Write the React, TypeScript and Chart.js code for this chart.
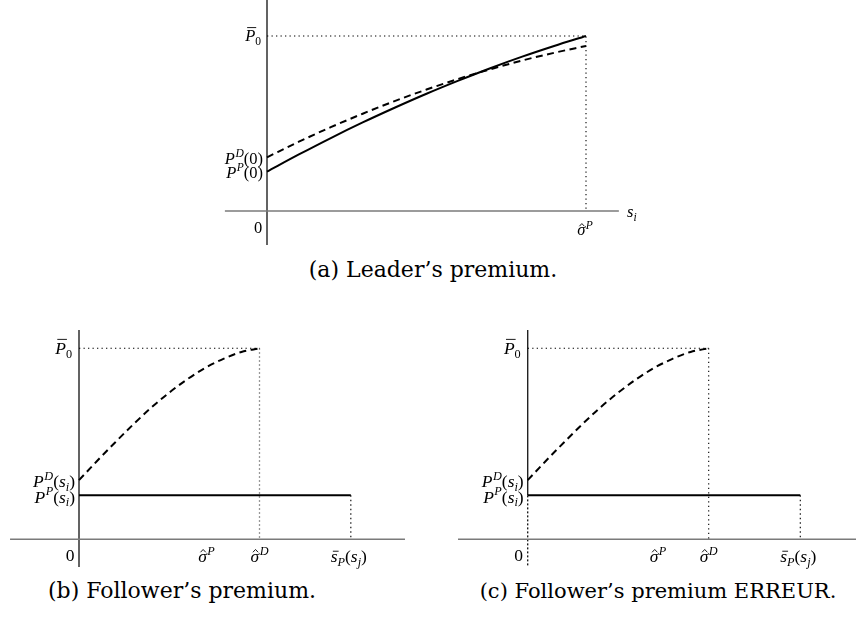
import React, { useEffect, useRef } from "react";
import { Chart, registerables } from "chart.js";

Chart.register(...registerables);

// ---------- Panel (a): Leader's premium ----------
const leaderS = [0, 0.1, 0.2, 0.3, 0.4, 0.5, 0.6, 0.7, 0.8, 0.9, 1];
const leaderPremiumP = [0.225, 0.323, 0.417, 0.506, 0.59, 0.67, 0.745, 0.816, 0.882, 0.943, 1.0];
const leaderPremiumD = [0.307, 0.396, 0.479, 0.556, 0.628, 0.694, 0.755, 0.81, 0.86, 0.904, 0.943];
const leaderSigmaP = 1;
const pBar0 = 1;

// ---------- Panels (b), (c): Follower's premium ----------
const followerS = [0, 0.1, 0.2, 0.3, 0.4, 0.5, 0.6, 0.7, 0.8, 0.9, 1];
const followerPremiumD = [0.31, 0.41, 0.507, 0.601, 0.689, 0.768, 0.838, 0.898, 0.945, 0.981, 1.0];
const followerPremiumP = 0.23;
const followerSigmaP = [0.706, 0.72]; // (b), (c)
const followerSigmaD = 1;
const followerSBarP = 1.506;

const captions = [
  "(a) Leader\u2019s premium.",
  "(b) Follower\u2019s premium.",
  "(c) Follower\u2019s premium ERREUR.",
];

// ---------- math text helper ----------
type Seg = { t: string; it?: boolean; sup?: boolean; sub?: boolean; bar?: boolean; hat?: boolean };
const it = (t: string, e: Partial<Seg> = {}): Seg => ({ t, it: true, ...e });
const rm = (t: string, e: Partial<Seg> = {}): Seg => ({ t, ...e });

const MATH_FONT = '"Liberation Serif", "Times New Roman", serif';

function drawMath(
  ctx: CanvasRenderingContext2D,
  segs: Seg[],
  x: number,
  y: number,
  align: "left" | "center" | "right",
  size: number
) {
  const small = size * 0.7;
  const font = (s: Seg) => `${s.it ? "italic " : ""}${s.sup || s.sub ? small : size}px ${MATH_FONT}`;
  const widths = segs.map((s) => {
    ctx.font = font(s);
    return ctx.measureText(s.t).width + (s.sup ? 0.5 : 0);
  });
  const total = widths.reduce((a, b) => a + b, 0);
  let cx = align === "right" ? x - total : align === "center" ? x - total / 2 : x;
  const base = y + size * 0.33;
  ctx.save();
  ctx.fillStyle = "#000";
  ctx.strokeStyle = "#000";
  ctx.textBaseline = "alphabetic";
  ctx.textAlign = "left";
  segs.forEach((s, i) => {
    ctx.font = font(s);
    const dy = s.sup ? -size * 0.42 : s.sub ? size * 0.22 : 0;
    ctx.fillText(s.t, cx + (s.sup ? 0.5 : 0), base + dy);
    if (s.bar) {
      const top = s.t === "s" ? base - size * 0.62 : base - size * 0.84;
      ctx.lineWidth = 0.9;
      ctx.beginPath();
      ctx.moveTo(cx + size * 0.12, top);
      ctx.lineTo(cx + widths[i] + size * 0.06, top);
      ctx.stroke();
    }
    if (s.hat) {
      const mid = cx + widths[i] * 0.58;
      const top = base - size * 0.56;
      ctx.lineWidth = 0.9;
      ctx.beginPath();
      ctx.moveTo(mid - size * 0.15, top);
      ctx.lineTo(mid, top - size * 0.16);
      ctx.lineTo(mid + size * 0.15, top);
      ctx.stroke();
    }
    cx += widths[i];
  });
  ctx.restore();
}

type Label = { segs: Seg[]; x: number; y: number; dx: number; dy: number; align: "left" | "center" | "right" };

type PanelSpec = {
  left: number;
  top: number;
  w: number;
  h: number;
  x0px: number;
  ux: number;
  y0px: number;
  uy: number;
  fontSize: number;
  datasets: any[];
  labels: Label[];
};

const SOLID = { borderColor: "#000", borderWidth: 2 };
const DASHED = { borderColor: "#000", borderWidth: 2, borderDash: [7, 4.5] };
const DOTTED = { borderColor: "#000", borderWidth: 1.1, borderDash: [1.3, 3.2] };
const DOTTED_GRAY = { borderColor: "#777", borderWidth: 1.3, borderDash: [1.5, 2.5] };
const XAXIS = { borderColor: "#7a7a7a", borderWidth: 1.4 };
const YAXIS = { borderColor: "#222", borderWidth: 1.4 };

const seg = (pts: [number, number][], style: any, extra: any = {}) => ({
  data: pts.map(([x, y]) => ({ x, y })),
  showLine: true,
  pointRadius: 0,
  tension: 0,
  clip: false,
  ...style,
  ...extra,
});

const curve = (xs: number[], ys: number[], style: any) => ({
  data: xs.map((x, i) => ({ x, y: ys[i] })),
  showLine: true,
  pointRadius: 0,
  cubicInterpolationMode: "monotone",
  clip: false,
  ...style,
});

const lblPbar0 = [it("P", { bar: true }), rm("0", { sub: true })];
const lblPD0 = [it("P"), it("D", { sup: true }), rm("(0)")];
const lblPP0 = [it("P"), it("P", { sup: true }), rm("(0)")];
const lblZero = [rm("0")];
const lblSigmaP = [it("\u03c3", { hat: true }), it("P", { sup: true })];
const lblSigmaD = [it("\u03c3", { hat: true }), it("D", { sup: true })];
const lblSi = [it("s"), it("i", { sub: true })];
const lblPDsi = [it("P"), it("D", { sup: true }), rm("("), it("s"), it("i", { sub: true }), rm(")")];
const lblPPsi = [it("P"), it("P", { sup: true }), rm("("), it("s"), it("i", { sub: true }), rm(")")];
const lblSbar = [it("s", { bar: true }), it("P", { sub: true }), rm("("), it("s"), it("j", { sub: true }), rm(")")];

const panelA: PanelSpec = {
  left: 210,
  top: 0,
  w: 440,
  h: 250,
  x0px: 267,
  ux: 319,
  y0px: 211,
  uy: 175,
  fontSize: 16.5,
  datasets: [
    curve(leaderS, leaderPremiumP, SOLID),
    curve(leaderS, leaderPremiumD, DASHED),
    seg([[0, pBar0], [leaderSigmaP, pBar0], [leaderSigmaP, 0]], DOTTED),
    seg([[-0.132, 0], [1.103, 0]], XAXIS),
    seg([[0, 1.21], [0, -0.194]], YAXIS),
  ],
  labels: [
    { segs: lblPbar0, x: 0, y: pBar0, dx: -6, dy: 0, align: "right" },
    { segs: lblPD0, x: 0, y: leaderPremiumD[0], dx: -4, dy: 1, align: "right" },
    { segs: lblPP0, x: 0, y: leaderPremiumP[0], dx: -4, dy: 1, align: "right" },
    { segs: lblZero, x: 0, y: 0, dx: -9, dy: 17, align: "center" },
    { segs: lblSigmaP, x: leaderSigmaP, y: 0, dx: -1, dy: 19, align: "center" },
    { segs: lblSi, x: 1.103, y: 0, dx: 13, dy: 1, align: "center" },
  ],
};

function followerPanel(left: number, x0px: number, ux: number, sigmaP: number, variantC: boolean): PanelSpec {
  const ds: any[] = [
    seg([[0, followerPremiumP], [followerSBarP, followerPremiumP]], SOLID),
    curve(followerS, followerPremiumD, DASHED),
    seg([[0, pBar0], [followerSigmaD, pBar0]], DOTTED),
    seg([[followerSigmaD, pBar0], [followerSigmaD, 0]], variantC ? DOTTED : DOTTED_GRAY),
    seg([[followerSBarP, followerPremiumP], [followerSBarP, 0]], DOTTED),
    seg([[variantC ? -0.385 : -0.382, 0], [variantC ? 1.82 : 1.806, 0]], XAXIS),
  ];
  if (variantC) {
    ds.push(seg([[0, 1.1], [0, followerPremiumP]], YAXIS));
    ds.push(seg([[0, followerPremiumP], [0, -0.145]], { borderColor: "#111", borderWidth: 1.3, borderDash: [2, 2] }));
  } else {
    ds.push(seg([[0, 1.1], [0, -0.145]], YAXIS));
  }
  return {
    left,
    top: 330,
    w: variantC ? 426 : 420,
    h: 245,
    x0px,
    ux,
    y0px: 539.3,
    uy: 191,
    fontSize: 17.5,
    datasets: ds,
    labels: [
      { segs: lblPbar0, x: 0, y: pBar0, dx: -7, dy: 0, align: "right" },
      { segs: lblPDsi, x: 0, y: followerPremiumD[0], dx: -4, dy: 1, align: "right" },
      { segs: lblPPsi, x: 0, y: followerPremiumP, dx: -4, dy: 1.5, align: "right" },
      { segs: lblZero, x: 0, y: 0, dx: -9, dy: 16, align: "center" },
      { segs: lblSigmaP, x: sigmaP, y: 0, dx: 0, dy: 17, align: "center" },
      { segs: lblSigmaD, x: followerSigmaD, y: 0, dx: 0, dy: 17, align: "center" },
      { segs: lblSbar, x: followerSBarP, y: 0, dx: -2, dy: 17, align: "center" },
    ],
  };
}

const panelB = followerPanel(0, 79, 180.5, followerSigmaP[0], false);
const panelC = followerPanel(430, 527.7, 181, followerSigmaP[1], true);

function Panel({ spec }: { spec: PanelSpec }) {
  const ref = useRef<HTMLCanvasElement>(null);
  useEffect(() => {
    const canvas = ref.current!;
    const xMin = (spec.left - spec.x0px) / spec.ux;
    const xMax = (spec.left + spec.w - spec.x0px) / spec.ux;
    const yMax = (spec.y0px - spec.top) / spec.uy;
    const yMin = (spec.y0px - (spec.top + spec.h)) / spec.uy;
    const labelPlugin = {
      id: "mathLabels",
      afterDatasetsDraw(chart: any) {
        const ctx = chart.ctx as CanvasRenderingContext2D;
        const sx = chart.scales.x;
        const sy = chart.scales.y;
        spec.labels.forEach((l) => {
          drawMath(ctx, l.segs, sx.getPixelForValue(l.x) + l.dx, sy.getPixelForValue(l.y) + l.dy, l.align, spec.fontSize);
        });
      },
    };
    const chart = new Chart(canvas, {
      type: "scatter",
      data: { datasets: spec.datasets },
      options: {
        animation: false,
        responsive: false,
        devicePixelRatio: 1,
        layout: { padding: 0 },
        events: [],
        plugins: { legend: { display: false }, tooltip: { enabled: false } },
        scales: {
          x: { type: "linear", min: xMin, max: xMax, display: false },
          y: { type: "linear", min: yMin, max: yMax, display: false },
        },
      },
      plugins: [labelPlugin],
    } as any);
    return () => chart.destroy();
  }, [spec]);
  return (
    <canvas
      ref={ref}
      width={spec.w}
      height={spec.h}
      style={{ position: "absolute", left: spec.left, top: spec.top, width: spec.w, height: spec.h, display: "block" }}
    />
  );
}

const captionStyle = (cx: number, cy: number, size: number): React.CSSProperties => ({
  position: "absolute",
  left: cx,
  top: cy,
  transform: "translate(-50%, -50%)",
  whiteSpace: "nowrap",
  fontFamily: '"DejaVu Serif", serif',
  fontSize: size,
  color: "#000",
  lineHeight: 1,
});

export default function App() {
  return (
    <div style={{ position: "absolute", left: 0, top: 0, width: 856, height: 619, background: "#fff", overflow: "hidden" }}>
      <Panel spec={panelA} />
      <Panel spec={panelB} />
      <Panel spec={panelC} />
      <div style={captionStyle(433, 270, 22)}>{captions[0]}</div>
      <div style={captionStyle(182, 591, 22)}>{captions[1]}</div>
      <div style={captionStyle(658, 591, 21)}>{captions[2]}</div>
    </div>
  );
}
